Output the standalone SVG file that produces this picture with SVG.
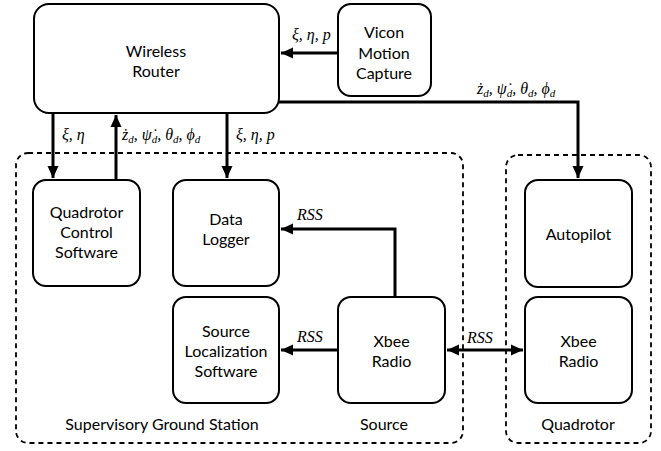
<svg xmlns="http://www.w3.org/2000/svg" width="661" height="451" viewBox="0 0 661 451">
<defs>
<marker id="ah" viewBox="0 0 12 12" markerWidth="12" markerHeight="12" markerUnits="userSpaceOnUse" refX="12" refY="6" orient="auto-start-reverse">
<path d="M0,0.5 L12,6 L0,11.5 z" fill="#000"/>
</marker>
<style>
.box{fill:#fff;stroke:#000;stroke-width:2}
.grp{fill:none;stroke:#000;stroke-width:1.8;stroke-dasharray:5,4}
.t{font-family:Lato,"Open Sans","DejaVu Sans",sans-serif;font-size:16px;text-anchor:middle;fill:#000}
.m{font-family:"Liberation Serif","DejaVu Serif",serif;font-style:italic;font-size:16px;fill:#000}
.c{fill:none;stroke:#000;stroke-width:3}
</style>
</defs>
<rect width="661" height="451" fill="#fff"/>
<g id="supervisory">
<rect class="grp" x="16" y="153" width="447" height="290" rx="12"/>
<text class="t" x="162" y="430">Supervisory Ground Station</text>
</g>
<g id="quadrotor-group">
<rect class="grp" x="506" y="155" width="145" height="288" rx="12"/>
<text class="t" x="578" y="430">Quadrotor</text>
</g>
<g id="source-label">
<text class="t" x="384" y="430">Source</text>
</g>
<g id="connectors">
<path class="c" d="M338,53 H281" marker-end="url(#ah)"/>
<path class="c" d="M279,102 H578 V178" marker-end="url(#ah)"/>
<path class="c" d="M53,113 V178" marker-end="url(#ah)"/>
<path class="c" d="M116,180 V115" marker-end="url(#ah)"/>
<path class="c" d="M227,113 V178" marker-end="url(#ah)"/>
<path class="c" d="M395,297 V229 H281" marker-end="url(#ah)"/>
<path class="c" d="M338,350 H281" marker-end="url(#ah)"/>
<path class="c" d="M447,350 H523" marker-start="url(#ah)" marker-end="url(#ah)"/>
<text class="m" x="292" y="40">ξ, η, p</text>
<text class="m" x="477" y="94">ż<tspan font-size="11" dy="3">d</tspan><tspan dy="-3">, ψ̇</tspan><tspan font-size="11" dy="3">d</tspan><tspan dy="-3">, θ</tspan><tspan font-size="11" dy="3">d</tspan><tspan dy="-3">, ϕ</tspan><tspan font-size="11" dy="3">d</tspan></text>
<text class="m" x="62" y="140">ξ, η</text>
<text class="m" x="122" y="140">ż<tspan font-size="11" dy="3">d</tspan><tspan dy="-3">, ψ̇</tspan><tspan font-size="11" dy="3">d</tspan><tspan dy="-3">, θ</tspan><tspan font-size="11" dy="3">d</tspan><tspan dy="-3">, ϕ</tspan><tspan font-size="11" dy="3">d</tspan></text>
<text class="m" x="236" y="140">ξ, η, p</text>
<text class="m" x="297" y="220">RSS</text>
<text class="m" x="297" y="342">RSS</text>
<text class="m" x="467" y="343">RSS</text>
</g>
<g id="router">
<rect class="box" x="34" y="4" width="245" height="109" rx="15"/>
<text class="t" x="156" y="57">Wireless</text>
<text class="t" x="156" y="77">Router</text>
</g>
<g id="vicon">
<rect class="box" x="338" y="4" width="93" height="92" rx="13"/>
<text class="t" x="384" y="38">Vicon</text>
<text class="t" x="384" y="59">Motion</text>
<text class="t" x="384" y="79">Capture</text>
</g>
<g id="qcs">
<rect class="box" x="33" y="180" width="107" height="106" rx="13"/>
<text class="t" x="86.5" y="218">Quadrotor</text>
<text class="t" x="86.5" y="238">Control</text>
<text class="t" x="86.5" y="258">Software</text>
</g>
<g id="logger">
<rect class="box" x="173" y="180" width="106" height="106" rx="13"/>
<text class="t" x="226" y="225">Data</text>
<text class="t" x="226" y="245">Logger</text>
</g>
<g id="sls">
<rect class="box" x="173" y="297" width="106" height="106" rx="13"/>
<text class="t" x="226" y="337">Source</text>
<text class="t" x="226" y="357">Localization</text>
<text class="t" x="226" y="377">Software</text>
</g>
<g id="xbee-source">
<rect class="box" x="338" y="297" width="107" height="106" rx="13"/>
<text class="t" x="391.5" y="347">Xbee</text>
<text class="t" x="391.5" y="367">Radio</text>
</g>
<g id="autopilot">
<rect class="box" x="525" y="180" width="107" height="107" rx="13"/>
<text class="t" x="578.5" y="240">Autopilot</text>
</g>
<g id="xbee-quad">
<rect class="box" x="525" y="297" width="107" height="106" rx="13"/>
<text class="t" x="578.5" y="347">Xbee</text>
<text class="t" x="578.5" y="367">Radio</text>
</g>
</svg>
